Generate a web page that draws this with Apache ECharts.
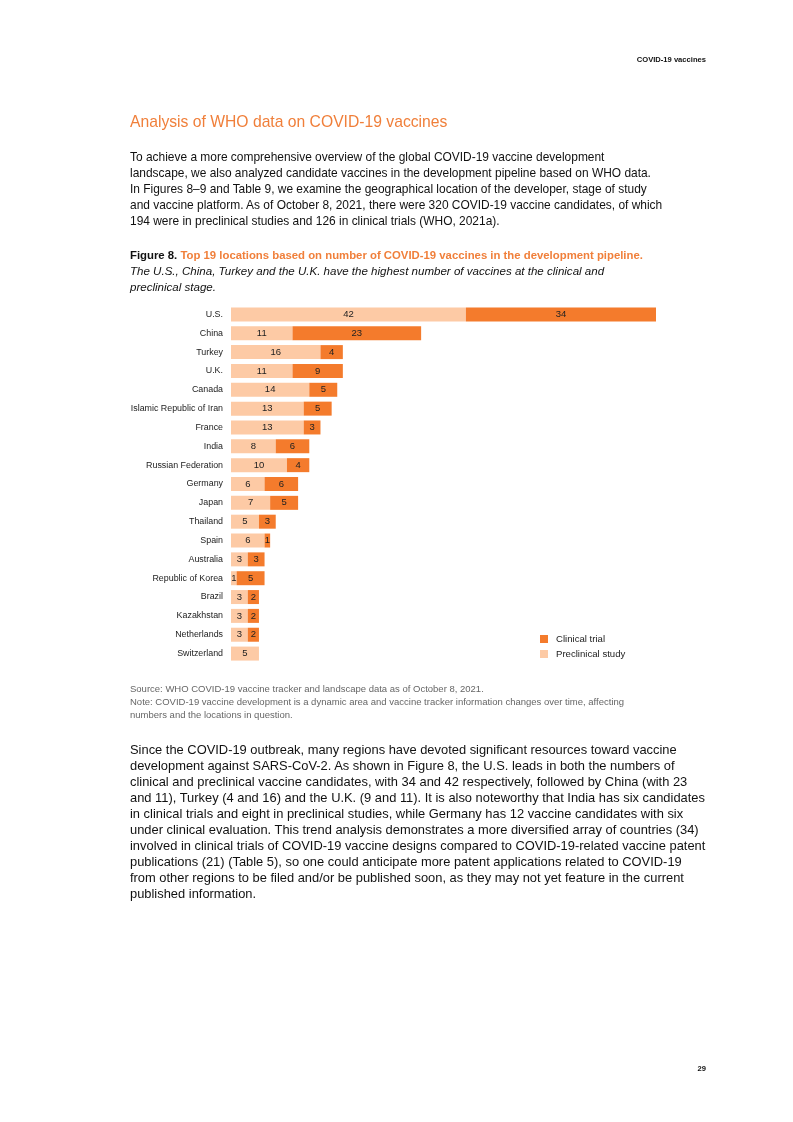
<!DOCTYPE html>
<html><head><meta charset="utf-8">
<script src="https://cdn.jsdelivr.net/npm/echarts@6/dist/echarts.min.js"></script>
<style>
html,body{margin:0;padding:0;background:#fff;}
body{width:793px;height:1122px;position:relative;font-family:"Liberation Sans",Arial,sans-serif;color:#111;}
#chart{position:absolute;left:0;top:0;width:793px;height:1122px;}
.t{position:absolute;white-space:nowrap;}
.src{font-size:9.5px;line-height:13px;color:#666;left:130px;}
</style></head>
<body>
<div id="chart"></div>
<div class="t" style="right:87px;top:55px;font-size:7.6px;font-weight:bold;">COVID-19 vaccines</div>
<div class="t" style="left:130px;top:113px;font-size:15.7px;color:#F07F3A;">Analysis of WHO data on COVID-19 vaccines</div>
<div class="t" style="left:130px;top:149px;font-size:11.95px;line-height:16px;">To achieve a more comprehensive overview of the global COVID-19 vaccine development<br>landscape, we also analyzed candidate vaccines in the development pipeline based on WHO data.<br>In Figures 8–9 and Table 9, we examine the geographical location of the developer, stage of study<br>and vaccine platform. As of October 8, 2021, there were 320 COVID-19 vaccine candidates, of which<br>194 were in preclinical studies and 126 in clinical trials (WHO, 2021a).</div>
<div class="t" style="left:130px;top:247px;font-size:11.35px;line-height:16px;"><b>Figure 8.</b> <b style="color:#F07F3A;">Top 19 locations based on number of COVID-19 vaccines in the development pipeline.</b><br><i style="font-size:11.55px;">The U.S., China, Turkey and the U.K. have the highest number of vaccines at the clinical and<br>preclinical stage.</i></div>
<div class="t src" style="top:682px;">Source: WHO COVID-19 vaccine tracker and landscape data as of October 8, 2021.<br>Note: COVID-19 vaccine development is a dynamic area and vaccine tracker information changes over time, affecting<br>numbers and the locations in question.</div>
<div class="t" style="left:130px;top:742px;font-size:12.9px;line-height:16px;">Since the COVID-19 outbreak, many regions have devoted significant resources toward vaccine<br>development against SARS-CoV-2. As shown in Figure 8, the U.S. leads in both the numbers of<br>clinical and preclinical vaccine candidates, with 34 and 42 respectively, followed by China (with 23<br>and 11), Turkey (4 and 16) and the U.K. (9 and 11). It is also noteworthy that India has six candidates<br>in clinical trials and eight in preclinical studies, while Germany has 12 vaccine candidates with six<br>under clinical evaluation. This trend analysis demonstrates a more diversified array of countries (34)<br>involved in clinical trials of COVID-19 vaccine designs compared to COVID-19-related vaccine patent<br>publications (21) (Table 5), so one could anticipate more patent applications related to COVID-19<br>from other regions to be filed and/or be published soon, as they may not yet feature in the current<br>published information.</div>
<div class="t" style="right:87px;top:1064px;font-size:7.6px;font-weight:bold;">29</div>
<script>
const categories = ["U.S.","China","Turkey","U.K.","Canada","Islamic Republic of Iran","France","India","Russian Federation","Germany","Japan","Thailand","Spain","Australia","Republic of Korea","Brazil","Kazakhstan","Netherlands","Switzerland"];
const preclinical = [42,11,16,11,14,13,13,8,10,6,7,5,6,3,1,3,3,3,5];
const clinical = [34,23,4,9,5,5,3,6,4,6,5,3,1,3,5,2,2,2,0];
const seriesNames = ["Clinical trial","Preclinical study"];

const chart = echarts.init(document.getElementById('chart'), null, {renderer:'canvas'});
const lbl = {show:true, position:'inside', color:'#222', fontSize:9.5, fontFamily:'Liberation Sans',
  formatter: p => p.value ? String(p.value) : ''};
chart.setOption({
  animation:false,
  grid:{left:231, top:305, width:425, height:358, containLabel:false},
  xAxis:{type:'value', min:0, max:76, show:false},
  yAxis:{type:'category', data:categories, inverse:true,
    axisLine:{show:false}, axisTick:{show:false},
    axisLabel:{color:'#222', fontSize:8.9, fontFamily:'Liberation Sans', margin:8}},
  legend:{orient:'vertical', left:540, top:634, padding:0, itemWidth:8, itemHeight:8, itemGap:5,
    data:seriesNames, icon:'rect',
    textStyle:{fontSize:9.6, color:'#222', fontFamily:'Liberation Sans', padding:[0,0,0,3]}},
  series:[
    {name:seriesNames[1], type:'bar', stack:'a', data:preclinical, barWidth:14,
      itemStyle:{color:'#FDCAA5'}, label:lbl},
    {name:seriesNames[0], type:'bar', stack:'a', data:clinical, barWidth:14,
      itemStyle:{color:'#F47B2C'}, label:lbl}
  ]
});
</script>
</body></html>
